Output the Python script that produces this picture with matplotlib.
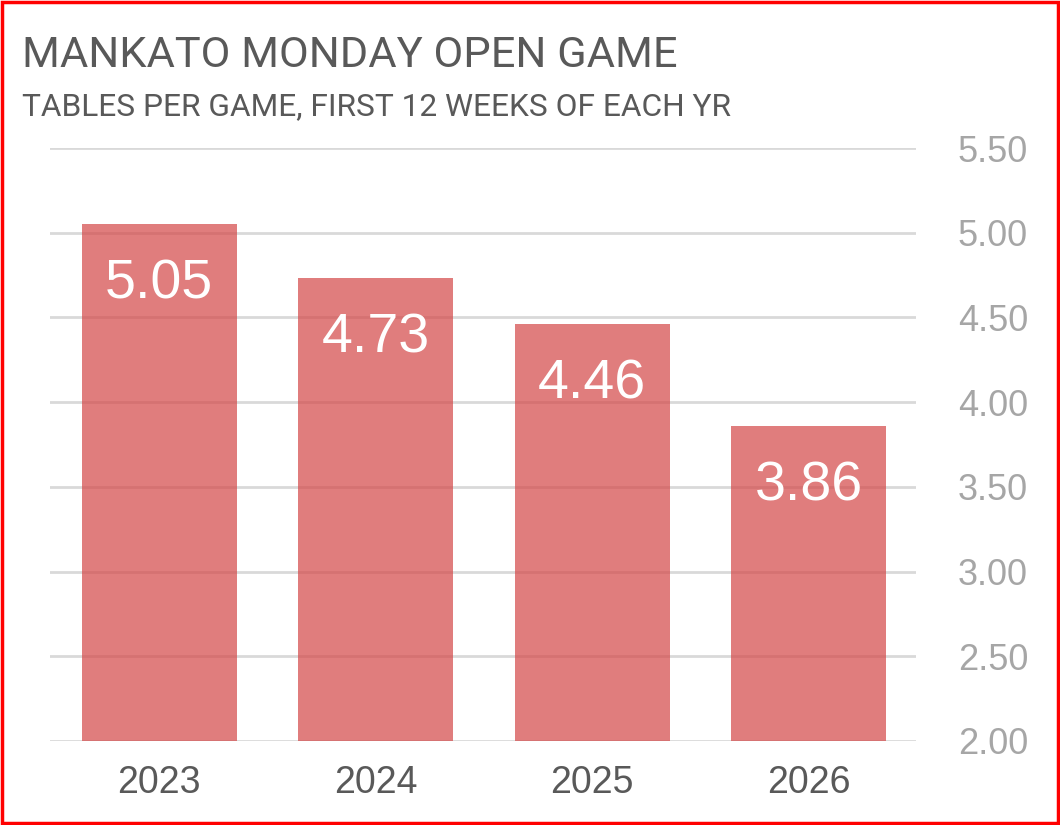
import matplotlib
matplotlib.use("Agg")
import matplotlib.pyplot as plt
from matplotlib.patches import Rectangle

years = ["2023", "2024", "2025", "2026"]
tables_per_game = [5.05, 4.73, 4.46, 3.86]
y_ticks = [2.00, 2.50, 3.00, 3.50, 4.00, 4.50, 5.00, 5.50]
title = "MANKATO MONDAY OPEN GAME"
subtitle = "TABLES PER GAME, FIRST 12 WEEKS OF EACH YR"

W, H = 1060, 825
fig = plt.figure(figsize=(W / 100, H / 100), dpi=100)
fig.patch.set_facecolor("white")

# axes in pixel coords: left 50, right 916, y 148 (5.5) to 741 (2.0)
ax = fig.add_axes([50 / W, 1 - 741 / H, (916 - 50) / W, (741 - 148) / H])
x = list(range(len(years)))
ax.bar(x, tables_per_game, width=0.715, color="#D44B4B", alpha=0.72, zorder=3)
ax.set_ylim(2.0, 5.5)
ax.set_xlim(-0.505, 3.495)
ax.set_yticks(y_ticks)
ax.set_yticklabels([f"{v:.2f}" for v in y_ticks])
ax.yaxis.tick_right()
ax.grid(axis="y", color="#D9D9D9", linewidth=2, zorder=1)
ax.set_axisbelow(True)
for s in ax.spines.values():
    s.set_visible(False)
ax.tick_params(axis="y", length=0, pad=30, labelsize=26, labelcolor="#A6A6A6")
ax.tick_params(axis="x", length=0, pad=17, labelsize=27, labelcolor="#595959")
ax.set_xticks(x)
ax.set_xticklabels(years)
for lab in ax.get_yticklabels() + ax.get_xticklabels():
    lab.set_family(["Liberation Sans", "DejaVu Sans"])

for xi, v in zip(x, tables_per_game):
    ax.text(xi, v - 0.32, f"{v:.2f}", ha="center", va="center_baseline", color="white",
            fontsize=40, family=["Liberation Sans", "DejaVu Sans"], zorder=4)

fig.text(22 / W, 1 - 67 / H, title, ha="left", va="baseline", fontsize=31.2,
         color="#595959", family=["Roboto", "DejaVu Sans"])
fig.text(22 / W, 1 - 115 / H, subtitle, ha="left", va="baseline", fontsize=22.8,
         color="#595959", family=["Roboto", "DejaVu Sans"])

fig.patches.append(Rectangle((0.0015, 0.002), 0.997, 0.996, transform=fig.transFigure,
                             fill=False, edgecolor="#FF0000", linewidth=2.5))

fig.savefig("out.png", dpi=100)
